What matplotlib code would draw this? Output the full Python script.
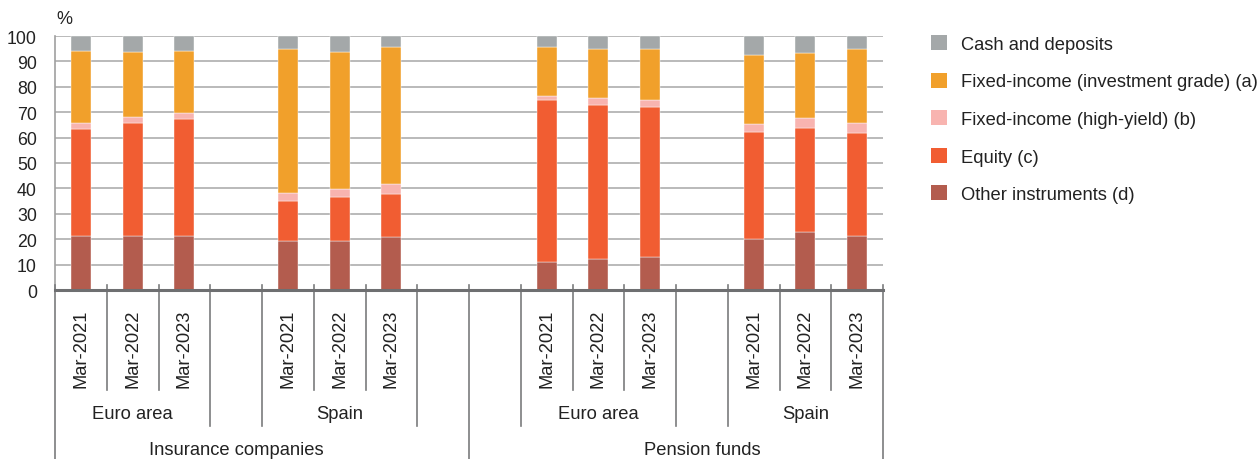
import matplotlib
matplotlib.use("Agg")
import matplotlib.pyplot as plt
import matplotlib.transforms as mtransforms
from matplotlib.patches import Patch
import numpy as np

plt.rcParams['font.family'] = ['Liberation Sans', 'DejaVu Sans']

# ---- data ----
slot_labels = ["Mar-2021", "Mar-2022", "Mar-2023", "",
               "Mar-2021", "Mar-2022", "Mar-2023", "",
               "", "Mar-2021", "Mar-2022", "Mar-2023",
               "", "Mar-2021", "Mar-2022", "Mar-2023"]
region_labels = ["Euro area", "Spain", "Euro area", "Spain"]
sector_labels = ["Insurance companies", "Pension funds"]

series_names = ["Other instruments (d)", "Equity (c)", "Fixed-income (high-yield) (b)",
                "Fixed-income (investment grade) (a)", "Cash and deposits"]
# values per bar (12 bars, in order of non-empty slots)
other = [21.4, 21.4, 21.4, 19.4, 19.4, 21.0, 11.2, 12.3, 13.1, 19.9, 23.0, 21.1]
equity = [42.1, 44.3, 46.1, 15.6, 17.2, 16.8, 63.6, 60.5, 58.9, 42.2, 40.8, 40.7]
high_yield = [2.1, 2.3, 2.1, 3.1, 3.3, 3.8, 1.7, 2.7, 2.7, 3.1, 3.8, 4.1]
inv_grade = [28.5, 25.8, 24.6, 56.7, 53.9, 53.9, 19.0, 19.5, 20.1, 27.2, 25.7, 29.1]
cash = [5.9, 6.2, 5.8, 5.2, 6.2, 4.5, 4.5, 5.0, 5.2, 7.6, 6.7, 5.0]

colors = ["#B35C4E", "#F15D32", "#F8B4B0", "#F1A02B", "#A4A8A9"]

# ---- figure ----
W, H = 1258, 460
fig = plt.figure(figsize=(W / 100, H / 100), dpi=100)
x0, x1, ybot, ytop = 55, 883, 291, 37
ax = fig.add_axes([x0 / W, 1 - ybot / H, (x1 - x0) / W, (ybot - ytop) / H])

bar_pos = [i for i, l in enumerate(slot_labels) if l]
series = [other, equity, high_yield, inv_grade, cash]
bottom = np.zeros(len(bar_pos))
for vals, c, name in zip(series, colors, series_names):
    ax.bar(bar_pos, vals, bottom=bottom, width=0.39, color=c, label=name,
           edgecolor="white", linewidth=0.3, zorder=3)
    bottom += np.array(vals)

ax.set_xlim(-0.5, len(slot_labels) - 0.5)
ax.set_ylim(0, 100)
ax.set_yticks(range(0, 101, 10))
ax.tick_params(axis='y', length=0, pad=13, labelsize=12.8, labelcolor="#222222")
ax.set_xticks([])
ax.yaxis.grid(True, color="#B4B4B4", linewidth=1.3, zorder=0)
ax.set_axisbelow(True)
for s in ["top", "right"]:
    ax.spines[s].set_visible(False)
ax.spines["left"].set_color("#A0A0A0")
ax.spines["left"].set_linewidth(1.2)
ax.spines["bottom"].set_color("#6E6F71")
ax.spines["bottom"].set_linewidth(2.2)
ax.spines["bottom"].set_zorder(5)

trans = mtransforms.blended_transform_factory(ax.transData, ax.transAxes)
hpx = ybot - ytop


def fy(pix):
    return (ybot - pix) / hpx


line_kw = dict(color="#7A7B7D", linewidth=1.2, transform=trans, clip_on=False, zorder=4)
n = len(slot_labels)
group_bounds = {3, 4, 7, 9, 12, 13}
full_bounds = {0, 8, 16}
for b in range(n + 1):
    xb = b - 0.5
    if b in full_bounds:
        y_end = 462
    elif b in group_bounds:
        y_end = 427
    else:
        y_end = 391
    ax.plot([xb, xb], [fy(286), fy(y_end)], **line_kw)

txt_kw = dict(transform=trans, clip_on=False, fontsize=13.2, color="#222222")
for i, l in enumerate(slot_labels):
    if l:
        ax.text(i, fy(388), l, rotation=90, ha="center", va="bottom", **txt_kw)

region_spans = [(0, 2), (4, 6), (9, 11), (13, 15)]
for (a, b), l in zip(region_spans, region_labels):
    ax.text((a + b) / 2, fy(415), l, ha="center", va="center", **txt_kw)
sector_spans = [(0, 6), (9, 15)]
for (a, b), l in zip(sector_spans, sector_labels):
    ax.text((a + b) / 2, fy(451), l, ha="center", va="center", **txt_kw)

fig.text(64 / W, 1 - 20 / H, "%", ha="center", va="center", fontsize=13, color="#222222")

handles = [Patch(facecolor=c, label=nm) for c, nm in zip(colors, series_names)][::-1]
leg = fig.legend(handles=handles, loc="upper left", bbox_to_anchor=(931 / W, 1 - 36 / H),
                 frameon=False, fontsize=13.2, handlelength=0.875, handleheight=0.875,
                 handletextpad=0.75, labelspacing=1.08, borderaxespad=0, borderpad=0)
for t in leg.get_texts():
    t.set_color("#222222")

fig.savefig("out.png", dpi=100)
